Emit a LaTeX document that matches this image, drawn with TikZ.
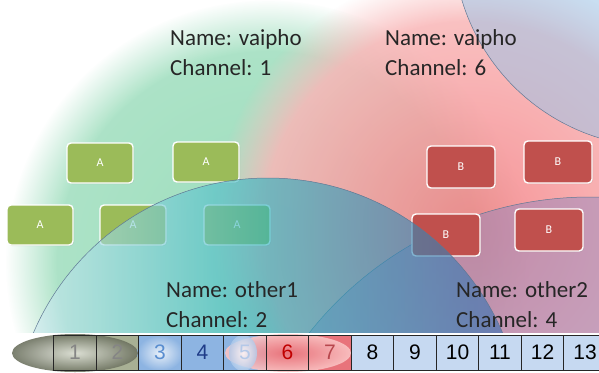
\documentclass[tikz,border=0pt]{standalone}
\usepackage{fontspec}
\setmainfont{Carlito}
\newfontfamily\numfont{Liberation Sans}
\usetikzlibrary{fadings,shadows}

\definecolor{mint}{HTML}{9CDDBC}
\definecolor{rosy}{HTML}{F47E82}
\definecolor{rosylight}{HTML}{FAC4C4}
\definecolor{skyblue}{HTML}{9DC3E6}
\definecolor{icewhite}{HTML}{DDEEF5}
\definecolor{tealmid}{HTML}{2CB2C0}
\definecolor{deepblue}{HTML}{3A68B0}
\definecolor{lavender}{HTML}{8A84C0}
\definecolor{edgeline}{HTML}{5F7894}
\definecolor{boxgreen}{HTML}{9BBB59}
\definecolor{boxred}{HTML}{C0504D}
\definecolor{cellblue}{HTML}{C6D9F1}
\definecolor{chanblue}{HTML}{8DB4E2}
\definecolor{chanred}{HTML}{E8737B}
\definecolor{chanolive}{HTML}{A8B094}
\definecolor{numgray}{HTML}{858585}
\definecolor{numlight}{HTML}{5A8ED0}
\definecolor{numdark}{HTML}{1F3C88}
\definecolor{numpale}{HTML}{B4C8E8}
\definecolor{numred}{HTML}{C00000}
\definecolor{numrose}{HTML}{B8474D}

\tikzset{
  stabox/.style={rounded corners=4pt, draw=white, line width=1.4pt, text=white,
    font=\fontsize{12}{14}\selectfont,
    drop shadow={opacity=0.2, shadow xshift=1pt, shadow yshift=-1pt}},
  boxa/.style={stabox, fill=boxgreen, minimum width=66pt, minimum height=40pt},
  boxb/.style={stabox, fill=boxred, minimum width=68pt, minimum height=42pt},
  info/.style={anchor=base west, inner sep=0pt, text=black!85,
    font=\fontsize{23}{28}\selectfont},
  cellbg/.style={minimum width=42.5pt, minimum height=35pt, inner sep=0pt},
  cell/.style={cellbg, draw=black!85, line width=0.8pt,
    font=\numfont\fontsize{21}{24}\selectfont}
}

\begin{document}
\begin{tikzpicture}[x=1pt,y=-1pt]
\useasboundingbox (0,0) rectangle (599,372);
\fill[white] (0,0) rectangle (599,372);

% coverage areas
\begin{scope}
\clip (0,0) rectangle (599,332);
\shade[inner color=mint, outer color=mint!80, path fading=circle with fuzzy edge 20 percent] (268,262) circle (262);
\shade[inner color=rosy, outer color=rosylight, opacity=0.85, path fading=circle with fuzzy edge 20 percent] (470,228) circle (258);
\fill[skyblue, opacity=0.55] (660,-60) circle (207);
\draw[edgeline, line width=0.5pt] (660,-60) circle (207);
\fill[lavender, opacity=0.45] (590,555) circle (358);
\draw[edgeline, line width=0.5pt] (590,555) circle (358);
\end{scope}

% stations
\node[boxa] (a1) at (100,163) {A};
\node[boxa] (a2) at (206,162) {A};
\node[boxa] (a3) at (40,225) {A};
\node[boxa] (a4) at (133,225) {A};
\node[boxa] (a5) at (237,225) {A};
\node[boxb] (b1) at (461,167) {B};
\node[boxb] (b2) at (558,162) {B};
\node[boxb] (b3) at (446,235) {B};
\node[boxb] (b4) at (549,230) {B};

\begin{scope}
\clip (0,0) rectangle (599,332);
\shade[left color=icewhite, right color=deepblue, middle color=tealmid, opacity=0.62] (268,433) circle (255);
\draw[edgeline, line width=0.5pt] (268,433) circle (255);
\end{scope}

% network labels
\node[info] (name1) at (170,45) {Name: vaipho};
\node[info] (chan1) at (170,75) {Channel: 1};
\node[info] (name6) at (385,45) {Name: vaipho};
\node[info] (chan6) at (385,75) {Channel: 6};
\node[info] (name2) at (166,297) {Name: other1};
\node[info] (chan2) at (166,327) {Channel: 2};
\node[info] (name4) at (456,297) {Name: other2};
\node[info] (chan4) at (456,327) {Channel: 4};

% channel bar
\foreach \i/\bg in {1/chanolive,2/chanolive,3/chanblue,4/chanblue,5/chanblue,6/chanred,7/chanred,
  8/cellblue,9/cellblue,10/cellblue,11/cellblue,12/cellblue,13/cellblue}
  \node[cellbg, fill=\bg] (bg\i) at ({75+(\i-1)*42.5},352.5) {};

\shade[inner color=chanred, outer color=rosylight, opacity=0.9] (288,353) ellipse (63 and 19);
\shade[inner color=white, outer color=chanblue, opacity=0.8] (160,353) ellipse (23 and 18);
\shade[inner color=white, outer color=chanblue!70, opacity=0.8] (243,353) ellipse (14 and 18);
\shade[inner color=chanolive!35, outer color=black!35!chanolive, opacity=0.9] (75,353) ellipse (63 and 19);

\foreach \i/\fg in {1/numgray,2/numgray,3/numlight,4/numdark,5/numpale,6/numred,7/numrose,
  8/black,9/black,10/black,11/black,12/black,13/black}
  \node[cell, text=\fg] (cell\i) at (bg\i) {\i};
\end{tikzpicture}
\end{document}
